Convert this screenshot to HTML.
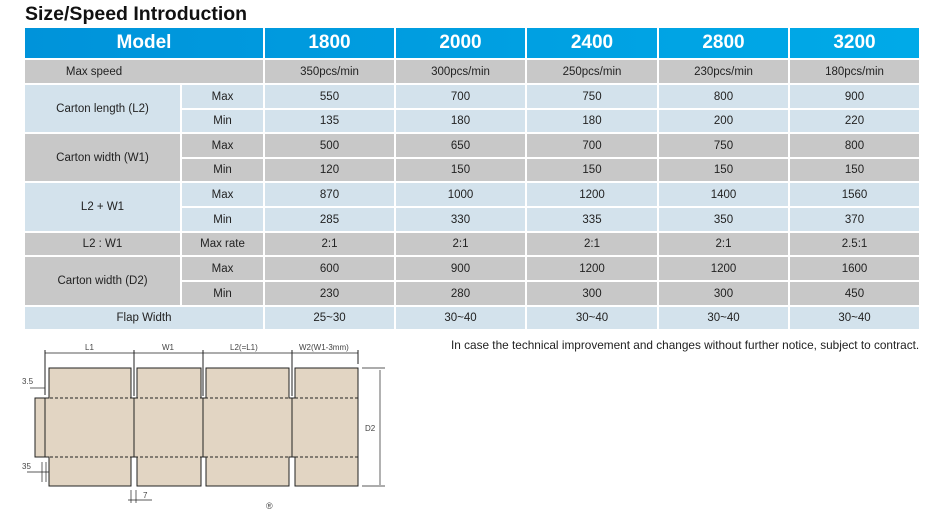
<!DOCTYPE html>
<html><head><style>
body{margin:0;width:944px;height:509px;background:#fff;position:relative;font-family:"Liberation Sans",sans-serif;overflow:hidden}
.c{position:absolute;display:flex;align-items:center;justify-content:center;font-size:11.5px;color:#222;box-sizing:border-box;border-right:2px solid #fff;border-bottom:2px solid #fff}
.h{color:#fff;font-weight:bold;font-size:19px}
.g{background:#c8c8c8}.b{background:#d3e2ec}
</style></head><body>
<div style="position:absolute;left:25px;top:3px;font-size:19.5px;font-weight:bold;color:#111">Size/Speed Introduction</div>
<div style="position:absolute;left:25px;top:28px;width:896px;height:32px;background:linear-gradient(90deg,#0093da,#00aae8)"></div>
<div style="position:absolute;left:451px;top:338px;font-size:11.8px;color:#222;white-space:nowrap">In case the technical improvement and changes without further notice, subject to contract.</div>
<svg style="position:absolute;left:0;top:330px" width="400" height="179" viewBox="0 330 400 179">
<g fill="#e2d5c3" stroke="#222" stroke-width="1">
<path d="M49 368H131V398H137V368H201V398H206V368H289V398H295V368H358V486H295V457H289V486H206V457H201V486H137V457H131V486H49V457H35V398H49Z"/>
</g>
<g stroke="#222" stroke-width="1" fill="none">
<line x1="45" y1="398" x2="45" y2="457"/>
<line x1="134" y1="398" x2="134" y2="457"/><line x1="203" y1="398" x2="203" y2="457"/><line x1="292" y1="398" x2="292" y2="457"/>
<line x1="45" y1="398" x2="358" y2="398" stroke-dasharray="3,2"/>
<line x1="45" y1="457" x2="358" y2="457" stroke-dasharray="3,2"/>
<line x1="45" y1="353" x2="358" y2="353" stroke-width="0.7"/>
<line x1="45" y1="350" x2="45" y2="395"/><line x1="134" y1="350" x2="134" y2="396"/><line x1="203" y1="350" x2="203" y2="396"/><line x1="292" y1="350" x2="292" y2="396"/><line x1="358" y1="350" x2="358" y2="364"/>
<line x1="380" y1="370" x2="380" y2="485" stroke-width="0.7"/>
<line x1="362" y1="368" x2="385" y2="368" stroke-width="0.7"/><line x1="362" y1="486" x2="385" y2="486" stroke-width="0.7"/>
<line x1="30" y1="388" x2="45" y2="388" stroke-width="0.7"/>
<line x1="27" y1="472" x2="49" y2="472" stroke-width="0.7"/><line x1="42" y1="462" x2="42" y2="482" stroke-width="0.7"/><line x1="46" y1="462" x2="46" y2="482" stroke-width="0.7"/>
<line x1="128" y1="500" x2="152" y2="500" stroke-width="0.7"/><line x1="131" y1="490" x2="131" y2="503" stroke-width="0.7"/><line x1="136" y1="490" x2="136" y2="503" stroke-width="0.7"/>
</g>
<g font-size="8" fill="#444" font-family="Liberation Sans,sans-serif">
<text x="85" y="350">L1</text><text x="162" y="350">W1</text><text x="230" y="350">L2(=L1)</text><text x="299" y="350">W2(W1-3mm)</text>
<text x="365" y="431">D2</text><text x="22" y="384">3.5</text><text x="22" y="469">35</text><text x="143" y="498">7</text>
<text x="266" y="509" font-size="9">®</text>
</g>
</svg>
<script>
var X=[25,182,265,396,527,659,790,921];
function c(x1,x2,y1,y2,cls,t){var d=document.createElement('div');d.className='c '+cls;d.style.left=x1+'px';d.style.top=y1+'px';d.style.width=(x2-x1)+'px';d.style.height=(y2-y1)+'px';d.innerHTML=t;document.body.appendChild(d);}
c(25,265,28,60,'h','Model');
['1800','2000','2400','2800','3200'].forEach((m,i)=>c(X[i+2],X[i+3],28,60,'h',m));
var Y=[60,85,110,134,159,183,208,233,257,282,307,331];
c(25,265,60,85,'g','<span style="margin-left:-100px">Max speed</span>');
['350pcs/min','300pcs/min','250pcs/min','230pcs/min','180pcs/min'].forEach((v,i)=>c(X[i+2],X[i+3],60,85,'g',v));
var groups=[['Carton length (L2)','b',[['Max',550,700,750,800,900],['Min',135,180,180,200,220]]],
['Carton width (W1)','g',[['Max',500,650,700,750,800],['Min',120,150,150,150,150]]],
['L2 + W1','b',[['Max',870,1000,1200,1400,1560],['Min',285,330,335,350,370]]],
['L2 : W1','g',[['Max rate','2:1','2:1','2:1','2:1','2.5:1']]],
['Carton width (D2)','g',[['Max',600,900,1200,1200,1600],['Min',230,280,300,300,450]]]];
var r=1;
groups.forEach(g=>{var n=g[2].length;c(25,182,Y[r],Y[r+n],g[1],g[0]);g[2].forEach((row,k)=>{row.forEach((v,j)=>c(X[j+1],X[j+2],Y[r+k],Y[r+k+1],g[1],v));});r+=n;});
c(25,265,307,331,'b','Flap Width');
['25~30','30~40','30~40','30~40','30~40'].forEach((v,i)=>c(X[i+2],X[i+3],307,331,'b',v));
</script>
</body></html>
